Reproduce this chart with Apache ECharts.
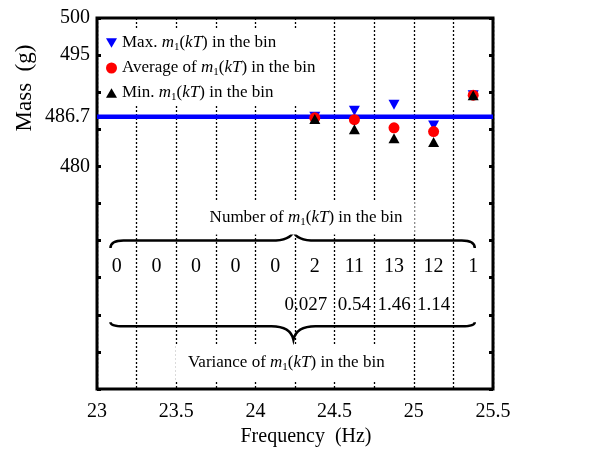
<!DOCTYPE html>
<html><head><meta charset="utf-8">
<script src="https://cdn.jsdelivr.net/npm/echarts@6/dist/echarts.min.js"></script>
<style>html,body{margin:0;padding:0;background:#fff}#c{width:614px;height:461px}</style>
</head><body><div id="c"></div><script>
// ---- data ----
const binCenters = [23.125, 23.375, 23.625, 23.875, 24.125, 24.375, 24.625, 24.875, 25.125, 25.375];
const binCounts = [0, 0, 0, 0, 0, 2, 11, 13, 12, 1];
const binVariances = [null, null, null, null, null, '0.027', '0.54', '1.46', '1.14', null];
const markerBins = [24.375, 24.625, 24.875, 25.125, 25.375];
const maxMass = [486.7, 487.5, 488.3, 485.5, 489.6];
const avgMass = [486.55, 486.3, 485.2, 484.7, 489.6];
const minMass = [486.4, 485.0, 483.8, 483.3, 489.6];
const referenceMass = 486.7;
const yTickLabels = [480, 486.7, 495, 500];

// ---- layout constants ----
const FF = "'Liberation Serif', 'Times New Roman', serif";
const countRowY = 466.5;
const varRowY = 461.3;
const varLabelShift = {5: -9};
const numTitle = [24.32, 473.1];
const varTitle = [24.195, 453.5];
const braces = [
  {x0: 23.085, x1: 25.385, xc: 24.24, yEnd: 469.0, yH: 470.0, yTip: 471.25},
  {x0: 23.085, x1: 25.385, xc: 24.24, yEnd: 459.0, yH: 458.45, yTip: 456.65}
];

const rich = {
  t: {fontFamily: FF, fontSize: 17, color: '#000', lineHeight: 20, opacity: 1},
  i: {fontFamily: FF, fontSize: 17, color: '#000', fontStyle: 'italic', lineHeight: 20, opacity: 1},
  s: {fontFamily: FF, fontSize: 11, color: '#000', lineHeight: 10, verticalAlign: 'bottom', opacity: 1}
};
const mk = (pre, post) => '{t|' + pre + '}{i|m}{s|1}{t|(}{i|kT}{t|)' + post + '}';
const legendText = {
  'Max': mk('Max. ', ' in the bin'),
  'Average': mk('Average of ', ' in the bin'),
  'Min': mk('Min. ', ' in the bin')
};

const downTri = 'path://M0,0L10,0L5,8.66Z';
const upTri = 'path://M5,0L10,8.66L0,8.66Z';
const hidden = {color: 'rgba(0,0,0,0)', opacity: 1};

const chart = echarts.init(document.getElementById('c'), null, {renderer: 'canvas'});
const option = {
  animation: false,
  backgroundColor: '#fff',
  grid: {left: 97, right: 121, top: 18, bottom: 72, show: true, borderColor: '#000', borderWidth: 3, backgroundColor: 'transparent'},
  legend: {
    orient: 'vertical', left: 102, top: 30,
    data: ['Max', 'Average', 'Min'],
    itemWidth: 11, itemHeight: 11, itemGap: 5,
    backgroundColor: '#fff', padding: [3, 4, 3, 4],
    formatter: n => legendText[n],
    textStyle: {fontFamily: FF, fontSize: 17, color: '#000', lineHeight: 20, rich: rich}
  },
  xAxis: [
    {type: 'value', min: 23, max: 25.5, interval: 0.5, position: 'bottom',
     axisLine: {show: false}, axisTick: {show: false}, splitLine: {show: false},
     axisLabel: {fontFamily: FF, fontSize: 20, color: '#000', margin: 13}},
    {type: 'value', min: 23, max: 25.5, interval: 0.25, position: 'bottom',
     axisLine: {show: false}, axisTick: {show: false}, axisLabel: {show: false},
     splitLine: {show: true, lineStyle: {color: '#000', width: 1.3, type: [2, 2]}}}
  ],
  yAxis: [
    {type: 'value', min: 450, max: 500, interval: 5, position: 'left',
     axisLine: {show: false}, splitLine: {show: false},
     axisTick: {show: true, inside: true, length: 4, lineStyle: {color: '#000', width: 3}},
     axisLabel: {customValues: yTickLabels, fontFamily: FF, fontSize: 20, color: '#000', margin: 7,
                 formatter: v => String(v)}},
    {type: 'value', min: 450, max: 500, interval: 5, position: 'right',
     axisLine: {show: false}, splitLine: {show: false}, axisLabel: {show: false},
     axisTick: {show: true, inside: true, length: 4, lineStyle: {color: '#000', width: 3}}}
  ],
  series: [
    {type: 'line', name: 'ref', data: [[23, referenceMass], [25.5, referenceMass]], symbol: 'none',
     lineStyle: {color: '#0000ff', width: 4.5, opacity: 1}, silent: true, z: 1},
    {type: 'scatter', name: 'Max', data: markerBins.map((x, i) => [x, maxMass[i]]),
     symbol: downTri, symbolSize: [11, 10], itemStyle: {color: '#0000ff', opacity: 1}, z: 3},
    {type: 'scatter', name: 'Average', data: markerBins.map((x, i) => [x, avgMass[i]]),
     symbol: 'circle', symbolSize: 11, itemStyle: {color: '#ff0000', opacity: 1}, z: 3},
    {type: 'scatter', name: 'Min', data: markerBins.map((x, i) => [x, minMass[i]]),
     symbol: upTri, symbolSize: [11, 10], itemStyle: {color: '#000', opacity: 1}, z: 3},
    {type: 'scatter', name: 'counts', silent: true, symbol: 'circle', symbolSize: 1,
     itemStyle: hidden, z: 4,
     data: binCenters.map((x, i) => [x, countRowY, binCounts[i]]),
     label: {show: true, position: 'inside', formatter: p => String(p.value[2]),
             fontFamily: FF, fontSize: 20, color: '#000', opacity: 1}},
    {type: 'scatter', name: 'variances', silent: true, symbol: 'circle', symbolSize: 1,
     itemStyle: hidden, z: 4,
     data: binCenters.map((x, i) => ({
         value: [x, varRowY, binVariances[i]],
         label: {offset: [varLabelShift[i] || 0, 0]}
       })).filter(d => d.value[2] !== null),
     label: {show: true, position: 'inside', formatter: p => String(p.value[2]),
             fontFamily: FF, fontSize: 19, color: '#000', opacity: 1}},
    {type: 'scatter', name: 'titles', silent: true, symbol: 'circle', symbolSize: 1,
     itemStyle: hidden, z: 4,
     data: [
       {value: numTitle, label: {formatter: mk('Number of ', ' in the bin')}},
       {value: varTitle, label: {formatter: mk('Variance of ', ' in the bin')}}
     ],
     label: {show: true, position: 'inside', backgroundColor: '#fff', padding: [7, 12],
             fontFamily: FF, fontSize: 17, color: '#000', opacity: 1, rich: rich}},
    {type: 'custom', name: 'braces', silent: true, clip: false, z: 4,
     data: [[24.24, 470], [24.24, 458]],
     renderItem: function (params, api) {
       const b = braces[params.dataIndex];
       const pL = api.coord([b.x0, b.yEnd]);
       const pR = api.coord([b.x1, b.yEnd]);
       const h = api.coord([b.x0, b.yH])[1];
       const t = api.coord([b.xc, b.yTip]);
       const r = 13, r2 = 22;
       const d = 'M' + pL[0] + ',' + pL[1] +
         ' Q' + pL[0] + ',' + h + ' ' + (pL[0] + r) + ',' + h +
         ' L' + (t[0] - r2) + ',' + h +
         ' Q' + (t[0] - 3) + ',' + h + ' ' + t[0] + ',' + t[1] +
         ' Q' + (t[0] + 3) + ',' + h + ' ' + (t[0] + r2) + ',' + h +
         ' L' + (pR[0] - r) + ',' + h +
         ' Q' + pR[0] + ',' + h + ' ' + pR[0] + ',' + pR[1];
       return {type: 'path', shape: {pathData: d},
               style: {stroke: '#000', lineWidth: 2.5, fill: 'none', opacity: 1}};
     }}
  ],
  graphic: [
    {type: 'text', x: 25, y: 88, rotation: Math.PI / 2,
     style: {text: 'Mass  (g)', font: '23px ' + FF, fill: '#000', textAlign: 'center', textVerticalAlign: 'middle'}},
    {type: 'text', x: 306, y: 437,
     style: {text: 'Frequency  (Hz)', font: '20px ' + FF, fill: '#000', textAlign: 'center', textVerticalAlign: 'middle'}}
  ]
};
chart.setOption(option);
</script></body></html>
